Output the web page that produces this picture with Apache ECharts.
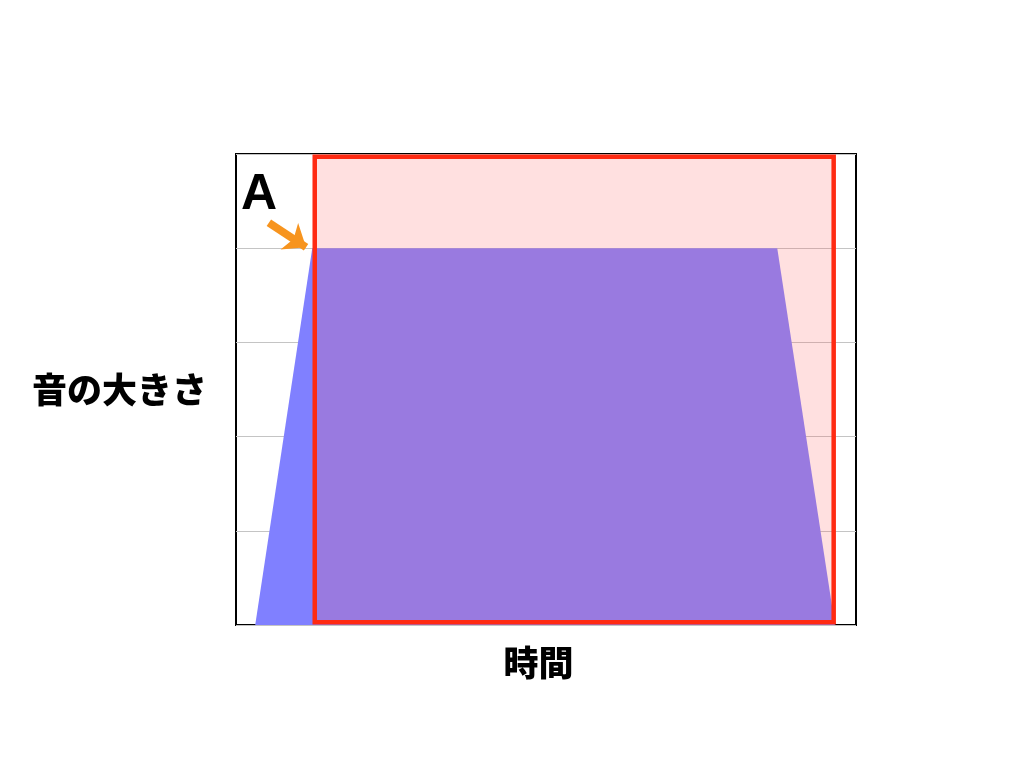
<!DOCTYPE html>
<html>
<head>
<meta charset="utf-8">
<script src="https://cdn.jsdelivr.net/npm/echarts@6/dist/echarts.min.js"></script>
<style>
  html, body { margin: 0; padding: 0; background: #fff; }
  #main { width: 1024px; height: 768px; }
</style>
</head>
<body>
<div id="main"></div>
<script>
// 音の大きさ（時間の経過）
const timeX = [3.1, 12.3, 87.3, 96.6];
const level = [0, 4, 4, 0];
// 赤い枠（左下と右上）
const frameFrom = [12.7, 0.03];
const frameTo = [96.4, 4.97];
// 矢印（始点・終点）
const arrowFrom = [5.3, 4.27];
const arrowTo = [11.3, 4.01];

const chart = echarts.init(document.getElementById('main'));

const option = {
    animation: false,
    grid: {
        left: 236, top: 154, width: 620, height: 471,
        show: true, borderColor: '#000', borderWidth: 2, backgroundColor: 'transparent'
    },
    xAxis: {
        type: 'value', min: 0, max: 100,
        name: '時間', nameLocation: 'middle', nameGap: 20,
        nameTextStyle: {
            fontFamily: 'Noto Sans CJK JP', fontWeight: 900, fontSize: 35, color: '#000',
            padding: [0, 15, 0, 0]
        },
        axisLine: { show: false }, axisTick: { show: false }, axisLabel: { show: false },
        splitLine: { show: false }
    },
    yAxis: {
        type: 'value', min: 0, max: 5, interval: 1,
        name: '音の大きさ', nameLocation: 'middle', nameRotate: 0, nameGap: 29,
        nameTextStyle: { fontFamily: 'Noto Sans CJK JP', fontWeight: 900, fontSize: 35, color: '#000' },
        axisLine: { show: false }, axisTick: { show: false }, axisLabel: { show: false },
        splitLine: { lineStyle: { color: '#c4c4c4', width: 1 } }
    },
    series: [
        {
            type: 'line',
            z: 2,
            data: timeX.map((t, i) => [t, level[i]]),
            symbol: 'none',
            lineStyle: { width: 0 },
            areaStyle: { color: '#8080ff', opacity: 1 }
        },
        {
            type: 'line',
            z: 5,
            data: [],
            markArea: {
                z: 5,
                silent: true,
                itemStyle: {
                    color: 'rgba(255,100,100,0.2)',
                    borderColor: '#ff2a12',
                    borderWidth: 4.5
                },
                data: [[{ coord: frameFrom }, { coord: frameTo }]]
            },
            markLine: {
                silent: true,
                symbol: ['none', 'arrow'],
                symbolSize: [24, 20],
                label: { show: false },
                lineStyle: { color: '#f7941e', width: 8, type: 'solid' },
                data: [[{ coord: arrowFrom }, { coord: arrowTo }]]
            }
        }
    ],
    graphic: [
        {
            type: 'text', x: 259, y: 195,
            style: {
                text: 'A', fill: '#000', font: '900 50px "Liberation Sans", Arial, sans-serif',
                textAlign: 'center', textVerticalAlign: 'middle'
            }
        }
    ]
};

chart.setOption(option);
</script>
</body>
</html>
